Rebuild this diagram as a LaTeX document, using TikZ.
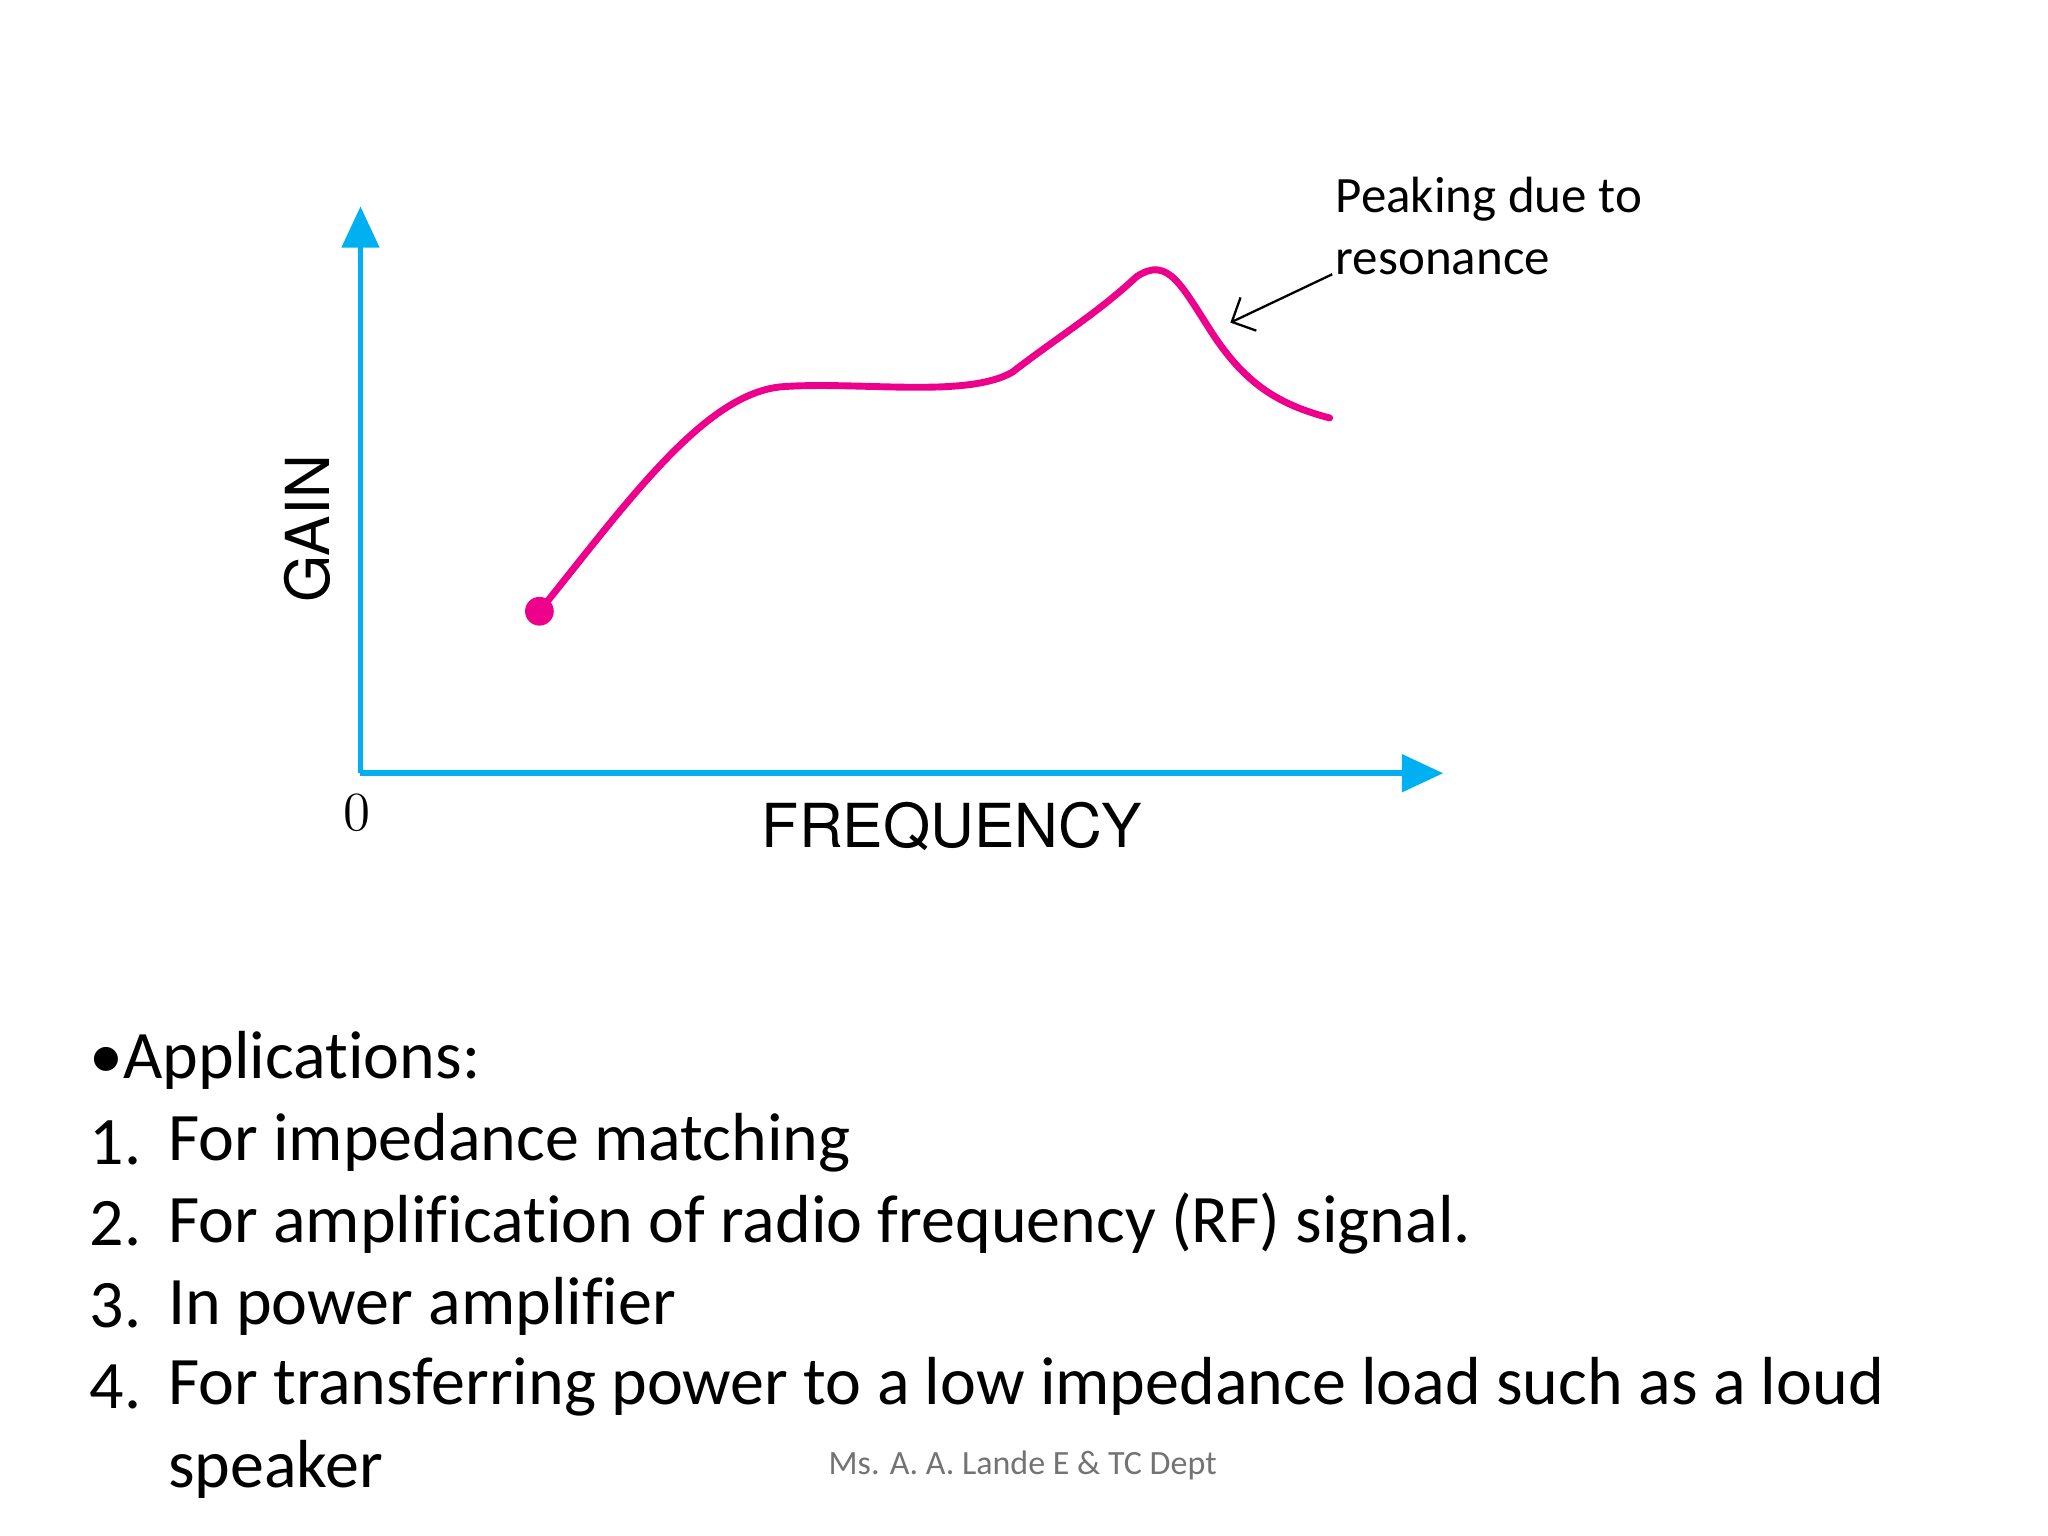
\documentclass[tikz,border=0pt]{standalone}
\usepackage{fontspec}
\setmainfont[Ligatures=NoCommon]{Carlito}
\newfontfamily\helv{TeX Gyre Heros}
\newfontfamily\lmr{Latin Modern Roman}
\usetikzlibrary{arrows.meta}
\definecolor{axc}{RGB}{0,176,240}
\definecolor{crv}{RGB}{236,0,140}
\begin{document}
\begin{tikzpicture}[x=0.01cm,y=-0.01cm,
  body/.style={anchor=west,inner sep=0pt,font=\fontsize{14.8pt}{17pt}\selectfont},
  ax/.style={draw=axc,line width=1.3pt,-{Triangle[length=9pt,width=8pt]}}]
\useasboundingbox (0,0) rectangle (1568,1176);
\coordinate (o) at (276,592);
\coordinate (ytip) at (276,158);
\coordinate (xtip) at (1105,592);
\draw[ax] (o) -- (ytip);
\draw[ax] (o) -- (xtip);
\node[font=\lmr\fontsize{12pt}{14pt}\selectfont] (zero) at (273,622) {0};
\node[font=\helv\fontsize{13.2pt}{15pt}\selectfont] (freq) at (729,633) {FREQUENCY};
\node[font=\helv\fontsize{13.2pt}{15pt}\selectfont,rotate=90] (gain) at (235,405) {GAIN};
\coordinate (s) at (413,468);
\fill[crv] (s) circle (11);
\draw[crv,line width=1.5pt,line cap=round] (s) .. controls (480,385) and (540,300) .. (600,296)
  .. controls (660,292) and (740,305) .. (775,285)
  .. controls (810,258) and (840,240) .. (870,212)
  .. controls (895,195) and (905,220) .. (930,258)
  .. controls (955,295) and (980,310) .. (1018,320);
\node[anchor=west,inner sep=0pt,font=\fontsize{11.1pt}{13.5pt}\selectfont,align=left] (peak) at (1022,173) {Peaking due to\\resonance};
\coordinate (pa) at (1020,210);
\coordinate (pb) at (942,247);
\draw[-{Straight Barb[length=4pt]},line width=0.5pt] (pa) -- (pb);
\node[body] (app) at (68,812) {•Applications:};
\node[body] (n1) at (68,875) {1.};
\node[body] (t1) at (128,875) {For impedance matching};
\node[body] (n2) at (68,937) {2.};
\node[body] (t2) at (128,937) {For amplification of radio frequency (RF) signal.};
\node[body] (n3) at (68,1000) {3.};
\node[body] (t3) at (128,1000) {In power amplifier};
\node[body] (n4) at (68,1062) {4.};
\node[body] (t4) at (128,1062) {For transferring power to a low impedance load such as a loud};
\node[body] (t5) at (128,1125) {speaker};
\node[font=\fontsize{7.4pt}{9pt}\selectfont,text=black!55] (foot) at (783,1122) {Ms. A. A. Lande E \& TC Dept};
\end{tikzpicture}
\end{document}
